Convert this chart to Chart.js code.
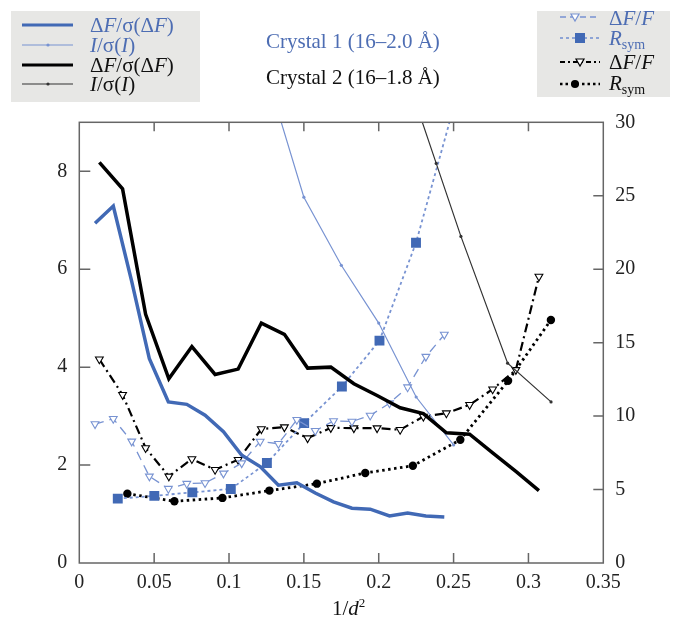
<!DOCTYPE html>
<html>
<head>
<meta charset="utf-8">
<script src="https://cdn.jsdelivr.net/npm/chart.js@4/dist/chart.umd.min.js"></script>
<style>
  body { margin: 0; background: #fff; }
  #wrap { position: relative; width: 678px; height: 618px; font-family: "Liberation Serif", "DejaVu Serif", serif; }
  #wrap canvas { position: absolute; left: 0; top: 0; }
  .t { position: absolute; white-space: nowrap; color: #111; }
  .blue { color: #4d6db3; }
  .leg { font-size: 21px; line-height: 20px; }
  .ttl { font-size: 21px; line-height: 22px; }
  sub { font-size: 14px; vertical-align: -4px; line-height: 0; }
  sup { font-size: 13px; vertical-align: 8px; line-height: 0; }
</style>
</head>
<body>
<div id="wrap">
  <canvas id="chart" width="678" height="618"></canvas>

  <!-- left legend -->
  <div class="t leg blue" style="left:90px;top:15px">&Delta;<i>F</i>/&sigma;(&Delta;<i>F</i>)</div>
  <div class="t leg blue" style="left:90px;top:35px"><i>I</i>/&sigma;(<i>I</i>)</div>
  <div class="t leg" style="left:90px;top:55px">&Delta;<i>F</i>/&sigma;(&Delta;<i>F</i>)</div>
  <div class="t leg" style="left:90px;top:74px"><i>I</i>/&sigma;(<i>I</i>)</div>

  <!-- titles -->
  <div class="t ttl blue" style="left:266px;top:30px">Crystal 1 (16–2.0 Å)</div>
  <div class="t ttl" style="left:266px;top:66px">Crystal 2 (16–1.8 Å)</div>

  <!-- right legend -->
  <div class="t leg blue" style="left:609px;top:8px">&Delta;<i>F</i>/<i>F</i></div>
  <div class="t leg blue" style="left:609px;top:28px"><i>R</i><sub>sym</sub></div>
  <div class="t leg" style="left:609px;top:52px">&Delta;<i>F</i>/<i>F</i></div>
  <div class="t leg" style="left:609px;top:73px"><i>R</i><sub>sym</sub></div>

  <!-- x axis title -->
  <div class="t leg" style="left:332px;top:598px">1/<i>d</i><sup>2</sup></div>
</div>

<script>
// Crystal 1 (16-2.0 A), 20 resolution bins
const xC1 = [0.0105, 0.0227, 0.035, 0.0468, 0.0595, 0.0718, 0.084, 0.0963, 0.1085, 0.1208,
             0.133, 0.1453, 0.1576, 0.1698, 0.1821, 0.1943, 0.2072, 0.2193, 0.2315, 0.2438];
const dfSigC1 = [6.94, 7.29, 5.75, 4.17, 3.29, 3.24, 3.02, 2.68, 2.20, 1.97,
                 1.59, 1.64, 1.43, 1.25, 1.12, 1.10, 0.96, 1.02, 0.96, 0.94];
const dfFC1 = [9.46, 9.82, 8.28, 5.90, 5.06, 5.40, 5.45, 6.10, 6.80, 8.27,
               8.12, 9.75, 9.0, 9.67, 9.63, 10.04, 10.88, 11.97, 14.05, 15.55];
const xRsymC1 = [0.0257, 0.0501, 0.0755, 0.1012, 0.1253, 0.1502, 0.1754, 0.2005, 0.2249, 0.25];
const rsymC1 = [4.38, 4.57, 4.81, 5.04, 6.81, 9.52, 12.01, 15.14, 21.8, 31];
const xIsigC1 = [0.125, 0.15, 0.175, 0.2, 0.225, 0.25];
const isigC1 = [10.0, 7.47, 6.08, 4.90, 3.39, 2.41];

// Crystal 2 (16-1.8 A), 20 resolution bins
const xC2 = [0.0134, 0.0289, 0.0443, 0.0598, 0.0752, 0.0907, 0.1061, 0.1216, 0.137, 0.1525,
             0.168, 0.1834, 0.1989, 0.2143, 0.2298, 0.2452, 0.2607, 0.2761, 0.2916, 0.307];
const dfSigC2 = [8.18, 7.64, 5.08, 3.76, 4.42, 3.85, 3.96, 4.90, 4.67, 3.98,
                 4.0, 3.66, 3.42, 3.17, 3.05, 2.66, 2.63, 2.25, 1.87, 1.48];
const dfFC2 = [13.87, 11.45, 7.83, 5.90, 7.08, 6.35, 7.03, 9.12, 9.25, 8.5,
               9.2, 9.18, 9.18, 9.07, 9.97, 10.20, 10.77, 11.83, 13.15, 19.5];
const xRsymC2 = [0.0321, 0.0635, 0.0956, 0.127, 0.1587, 0.191, 0.2228, 0.2545, 0.2864, 0.315];
const rsymC2 = [4.72, 4.20, 4.43, 4.93, 5.40, 6.13, 6.62, 8.39, 12.40, 16.54];
const xIsigC2 = [0.2225, 0.2384, 0.2549, 0.2861, 0.3151];
const isigC2 = [9.6, 8.16, 6.67, 4.08, 3.29];

// axis ticks
const xTicks = [0, 0.05, 0.1, 0.15, 0.2, 0.25, 0.3, 0.35];
const leftTicks = [0, 2, 4, 6, 8];
const rightTicks = [0, 5, 10, 15, 20, 25, 30];

const BLUE = '#4169b5';
const BLUE_LIGHT = '#7893d2';
const BLACK = '#000000';
const FONT = { family: '"Liberation Serif", "DejaVu Serif", serif', size: 20 };

function pairs(xs, ys) {
    return xs.map((x, i) => ({ x: x, y: ys[i] }));
}

function setTicks(list) {
    return function(scale) {
        scale.ticks = list.map(v => ({ value: v }));
    };
}

/**
 * Draw a legend sample: a short line with an optional marker
 */
function drawSample(ctx, x1, x2, y, s) {
    ctx.save();
    ctx.strokeStyle = s.color;
    ctx.lineWidth = s.width;
    ctx.setLineDash(s.dash || []);
    ctx.beginPath();
    ctx.moveTo(x1, y);
    ctx.lineTo(x2, y);
    ctx.stroke();
    ctx.setLineDash([]);
    if (s.marker) {
        const mx = s.mx;
        ctx.lineWidth = 1.2;
        ctx.strokeStyle = s.mcolor || s.color;
        ctx.fillStyle = s.mfill || s.color;
        ctx.beginPath();
        if (s.marker === 'dot') {
            ctx.arc(mx, y, 1.6, 0, Math.PI * 2);
            ctx.fill();
        } else if (s.marker === 'circle') {
            ctx.arc(mx, y, 4, 0, Math.PI * 2);
            ctx.fill();
        } else if (s.marker === 'square') {
            ctx.rect(mx - 5, y - 5, 10, 10);
            ctx.fill();
        } else if (s.marker === 'tri') {
            ctx.moveTo(mx - 4, y - 3);
            ctx.lineTo(mx + 4, y - 3);
            ctx.lineTo(mx, y + 4);
            ctx.closePath();
            ctx.fillStyle = '#fff';
            ctx.fill();
            ctx.stroke();
        }
    }
    ctx.restore();
}

// Frame, inward ticks and the two legend boxes
const decorPlugin = {
    id: 'decor',
    afterDraw(chart) {
        const ctx = chart.ctx;
        const a = chart.chartArea;
        const sx = chart.scales.x, sy = chart.scales.y, sy2 = chart.scales.y2;

        ctx.save();
        ctx.strokeStyle = '#666';
        ctx.lineWidth = 1.5;
        ctx.strokeRect(a.left, a.top, a.right - a.left, a.bottom - a.top);

        ctx.beginPath();
        xTicks.slice(1, -1).forEach(v => {
            const px = sx.getPixelForValue(v);
            ctx.moveTo(px, a.bottom); ctx.lineTo(px, a.bottom - 10);
            ctx.moveTo(px, a.top); ctx.lineTo(px, a.top + 9);
        });
        leftTicks.slice(1).forEach(v => {
            const py = sy.getPixelForValue(v);
            ctx.moveTo(a.left, py); ctx.lineTo(a.left + 11, py);
        });
        rightTicks.slice(1, -1).forEach(v => {
            const py = sy2.getPixelForValue(v);
            ctx.moveTo(a.right, py); ctx.lineTo(a.right - 10, py);
        });
        ctx.stroke();

        // legend boxes
        ctx.fillStyle = '#e7e7e5';
        ctx.fillRect(11, 11, 189, 91);
        ctx.fillRect(537, 11, 133, 86);
        ctx.restore();

        drawSample(ctx, 22, 73, 25, { color: BLUE, width: 3 });
        drawSample(ctx, 22, 73, 45, { color: BLUE_LIGHT, width: 1.2, marker: 'dot', mx: 48 });
        drawSample(ctx, 22, 73, 65, { color: BLACK, width: 3 });
        drawSample(ctx, 22, 73, 84, { color: '#333', width: 1.2, marker: 'dot', mx: 48 });

        drawSample(ctx, 560, 600, 17, { color: BLUE_LIGHT, width: 1.3, dash: [6, 4], marker: 'tri', mx: 575 });
        drawSample(ctx, 560, 600, 38, { color: BLUE_LIGHT, width: 1.6, dash: [3, 3], marker: 'square', mx: 580, mfill: BLUE });
        drawSample(ctx, 560, 600, 62, { color: BLACK, width: 2, dash: [5, 3, 2, 3], marker: 'tri', mx: 580 });
        drawSample(ctx, 560, 600, 84, { color: BLACK, width: 2.4, dash: [2.5, 3], marker: 'circle', mx: 575 });
    }
};

const datasets = [
    {
        label: 'ΔF/σ(ΔF) crystal 1', yAxisID: 'y',
        data: pairs(xC1, dfSigC1),
        borderColor: BLUE, borderWidth: 3.5, pointRadius: 0
    },
    {
        label: 'ΔF/σ(ΔF) crystal 2', yAxisID: 'y',
        data: pairs(xC2, dfSigC2),
        borderColor: BLACK, borderWidth: 3.5, pointRadius: 0
    },
    {
        label: 'I/σ(I) crystal 1', yAxisID: 'y',
        data: pairs(xIsigC1, isigC1),
        borderColor: BLUE_LIGHT, borderWidth: 1.2,
        pointRadius: 1.6, pointBackgroundColor: BLUE_LIGHT, pointBorderWidth: 0
    },
    {
        label: 'I/σ(I) crystal 2', yAxisID: 'y',
        data: pairs(xIsigC2, isigC2),
        borderColor: '#333', borderWidth: 1.2,
        pointRadius: 1.6, pointBackgroundColor: '#333', pointBorderWidth: 0
    },
    {
        label: 'ΔF/F crystal 1', yAxisID: 'y2',
        data: pairs(xC1, dfFC1),
        borderColor: BLUE_LIGHT, borderWidth: 1.3, borderDash: [9, 6],
        pointStyle: 'triangle', pointRotation: 180, pointRadius: 4.5,
        pointBackgroundColor: '#fff', pointBorderColor: BLUE_LIGHT, pointBorderWidth: 1.1
    },
    {
        label: 'Rsym crystal 1', yAxisID: 'y2',
        data: pairs(xRsymC1, rsymC1),
        borderColor: BLUE_LIGHT, borderWidth: 1.8, borderDash: [3, 3],
        pointStyle: 'rect', pointRadius: 7,
        pointBackgroundColor: BLUE, pointBorderColor: BLUE, pointBorderWidth: 0
    },
    {
        label: 'ΔF/F crystal 2', yAxisID: 'y2',
        data: pairs(xC2, dfFC2),
        borderColor: BLACK, borderWidth: 2.2, borderDash: [9, 4, 2, 4],
        pointStyle: 'triangle', pointRotation: 180, pointRadius: 4.5,
        pointBackgroundColor: '#fff', pointBorderColor: BLACK, pointBorderWidth: 1.1
    },
    {
        label: 'Rsym crystal 2', yAxisID: 'y2',
        data: pairs(xRsymC2, rsymC2),
        borderColor: BLACK, borderWidth: 2.8, borderDash: [2.5, 3.5],
        pointStyle: 'circle', pointRadius: 4.2,
        pointBackgroundColor: BLACK, pointBorderWidth: 0
    }
];

new Chart(document.getElementById('chart'), {
    type: 'line',
    data: { datasets: datasets },
    options: {
        responsive: false,
        animation: false,
        devicePixelRatio: 1,
        layout: { padding: { top: 122.3, left: 0, right: 0, bottom: 0 } },
        elements: { line: { tension: 0, fill: false } },
        plugins: {
            legend: { display: false },
            tooltip: { enabled: false },
            title: { display: false }
        },
        scales: {
            x: {
                type: 'linear', position: 'bottom', min: 0, max: 0.35,
                afterBuildTicks: setTicks(xTicks),
                afterFit: s => { s.height = 55; },
                grid: { display: false }, border: { display: false },
                ticks: {
                    padding: 0, color: '#222', font: FONT, maxRotation: 0,
                    callback: v => String(+v.toFixed(2))
                }
            },
            y: {
                type: 'linear', position: 'left', min: 0, max: 9,
                afterBuildTicks: setTicks(leftTicks),
                afterFit: s => { s.width = 79.3; },
                grid: { display: false }, border: { display: false },
                ticks: { padding: 4, color: '#222', font: FONT }
            },
            y2: {
                type: 'linear', position: 'right', min: 0, max: 30,
                afterBuildTicks: setTicks(rightTicks),
                afterFit: s => { s.width = 74.7; },
                grid: { display: false }, border: { display: false },
                ticks: { padding: 4, color: '#222', font: FONT }
            }
        }
    },
    plugins: [decorPlugin]
});
</script>
</body>
</html>
